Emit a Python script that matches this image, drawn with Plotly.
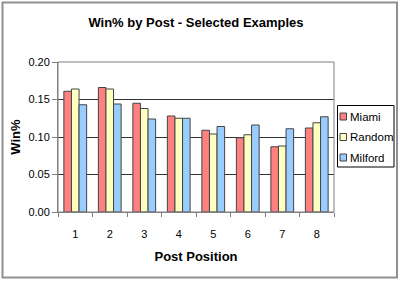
import plotly.graph_objects as go

positions = ["1", "2", "3", "4", "5", "6", "7", "8"]
miami = [0.161, 0.166, 0.145, 0.128, 0.109, 0.099, 0.087, 0.112]
random_ = [0.164, 0.164, 0.138, 0.125, 0.104, 0.103, 0.088, 0.119]
milford = [0.143, 0.144, 0.124, 0.125, 0.114, 0.116, 0.111, 0.127]

series = [("Miami", miami, "#FF8080"), ("Random", random_, "#FFFFC0"), ("Milford", milford, "#99CCFF")]

fig = go.Figure()
for name, vals, col in series:
    fig.add_trace(go.Bar(x=positions, y=vals, name=name, marker_color=col,
                         marker_line=dict(color="#444444", width=1), showlegend=False))

L, R, T, B = 58, 66, 62, 69
W, H = 400, 281
pw, ph = W - L - R, H - T - B

def px(x):
    return (x - L) / pw

def py(y):
    return (H - B - y) / ph

shapes = [
    dict(type="rect", xref="paper", yref="paper", x0=0, x1=1, y0=0, y1=1,
         line=dict(color="#808080", width=1), layer="above"),
    dict(type="rect", xref="paper", yref="paper", x0=px(2.5), x1=px(397), y0=py(2.5), y1=py(277.5),
         line=dict(color="#909090", width=2)),
    dict(type="rect", xref="paper", yref="paper", x0=px(337.5), x1=px(394), y0=py(105.5), y1=py(167),
         line=dict(color="black", width=1), fillcolor="white"),
]
annotations = []
for i, (name, vals, col) in enumerate(series):
    yc = 116.5 + 20.5 * i
    shapes.append(dict(type="rect", xref="paper", yref="paper", x0=px(340), x1=px(346.5),
                       y0=py(yc - 3.5), y1=py(yc + 3.5), fillcolor=col,
                       line=dict(color="#444444", width=1)))
    annotations.append(dict(text=name, xref="paper", yref="paper", x=px(347.5), y=py(yc),
                            xanchor="left", yanchor="middle", showarrow=False,
                            font=dict(size=11.5)))

fig.update_layout(
    width=W, height=H,
    margin=dict(l=L, r=R, t=T, b=B),
    paper_bgcolor="white", plot_bgcolor="white",
    barmode="group", bargap=0.34, bargroupgap=0,
    font=dict(family="Liberation Sans, Arial, sans-serif", size=11, color="black"),
    title=dict(text="<b>Win% by Post - Selected Examples</b>", x=0.5, xref="paper",
               xanchor="center", y=1 - 22.7 / H, yanchor="middle", font=dict(size=13)),
    showlegend=False,
    xaxis=dict(title=dict(text="<b>Post Position</b>", standoff=12), type="category",
               showline=True, linecolor="#808080", linewidth=1, mirror=False,
               ticks="outside", tickson="boundaries", ticklen=4, tickcolor="#808080",
               ticklabelstandoff=12, showgrid=False),
    yaxis=dict(title=dict(text="<b>Win%</b>", standoff=4), range=[0, 0.2], dtick=0.05,
               tickformat=".2f", showline=True, linecolor="#808080", linewidth=1,
               ticks="outside", ticklen=5, tickcolor="#808080",
               showgrid=True, gridcolor="#333333", gridwidth=1, zeroline=False),
    shapes=shapes,
    annotations=annotations,
)

fig.write_html("out.html")
